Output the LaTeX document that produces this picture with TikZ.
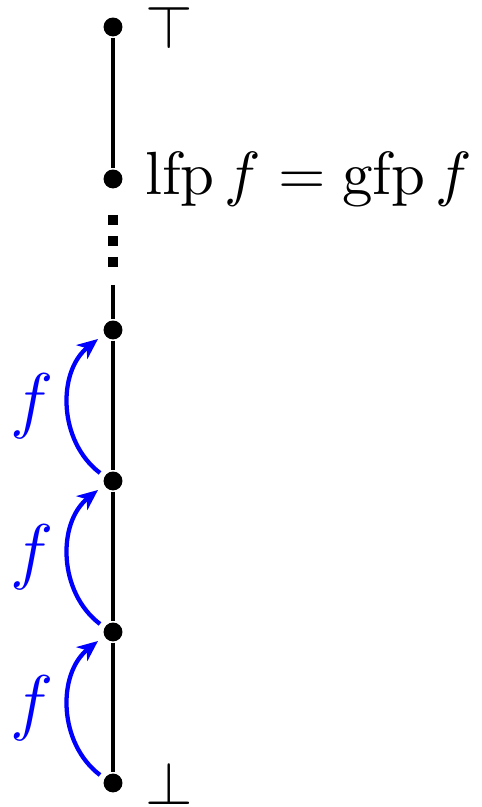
\documentclass[tikz,border=0pt]{standalone}
\usetikzlibrary{arrows.meta}
\begin{document}
\begin{tikzpicture}[x=0.164pt,y=0.164pt,
  pt/.style={circle,fill=black,inner sep=0pt,minimum size=3.1pt},
  chain/.style={line width=0.75pt},
  dots/.style={line width=1.64pt,dash pattern=on 1.64pt off 1.8pt},
  farrow/.style={blue,line width=0.7pt,-{Stealth[length=3.4pt,width=2.9pt,inset=1pt]}},
  flab/.style={blue,font=\large,left,inner sep=2pt},
  lab/.style={anchor=west}]
\useasboundingbox (0,0) rectangle (482,807);
\node[pt] (top) at (113,780) {};
\node[pt] (lfp) at (113,628) {};
\node[pt] (p3) at (113,477) {};
\node[pt] (p2) at (113,326) {};
\node[pt] (p1) at (113,175) {};
\node[pt] (bot) at (113,24) {};
\coordinate (d1) at (113,592);
\coordinate (d2) at (113,538);
\coordinate (c) at (113,522);
\draw[chain] (top) -- (lfp);
\draw[dots] (d1) -- (d2);
\draw[chain] (c) -- (p3) -- (p2) -- (p1) -- (bot);
\node[lab] (ltop) at (top.east) {$\top$};
\node[lab] (llfp) at (lfp.east) {$\mathop{\mathrm{lfp}} f = \mathop{\mathrm{gfp}} f$};
\node[lab] (lbot) at (bot.east) {$\bot$};
\draw[farrow] ([shift={(-13,8)}]bot.center) to[bend left=52] node[flab] (f1) {$f$} ([shift={(-15,-9)}]p1.center);
\draw[farrow] ([shift={(-13,8)}]p1.center) to[bend left=52] node[flab] (f2) {$f$} ([shift={(-15,-9)}]p2.center);
\draw[farrow] ([shift={(-13,8)}]p2.center) to[bend left=52] node[flab] (f3) {$f$} ([shift={(-15,-9)}]p3.center);
\end{tikzpicture}
\end{document}
